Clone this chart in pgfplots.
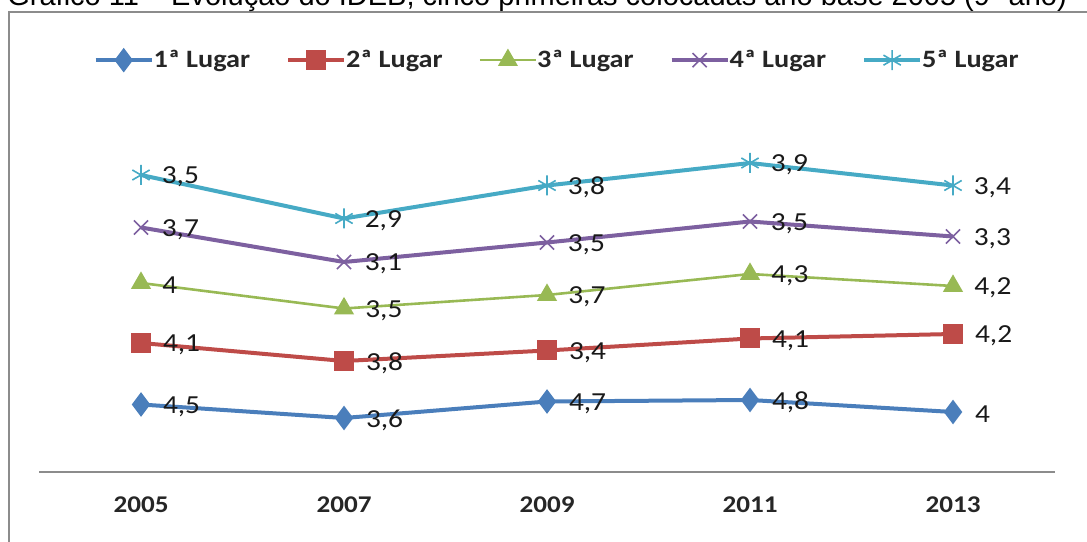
\documentclass[border=0pt]{standalone}
\usepackage{pgfplots}
\pgfplotsset{compat=1.18}
\usepackage{fontspec}
\setmainfont[FakeStretch=1.13]{Carlito}
\newfontfamily\titlefont{Liberation Sans}
\definecolor{s1}{HTML}{4A7EBB}
\definecolor{s2}{HTML}{BE4B48}
\definecolor{s3}{HTML}{98B954}
\definecolor{s4}{HTML}{7D60A0}
\definecolor{s5}{HTML}{46AAC5}
\definecolor{frame}{HTML}{8C8C8C}
\begin{document}
\begin{tikzpicture}
\useasboundingbox (0,0) rectangle (543.5pt,270.5pt);
\clip (0,0) rectangle (543.5pt,270.5pt);
\draw[frame, line width=0.8pt] (4.5pt,-10pt) rectangle (560pt,264.5pt);
\node[anchor=base west, inner sep=0pt, font=\titlefont\fontsize{14.5pt}{17pt}\selectfont]
  at (3.5pt,267.5pt) {Gráfico 11 – Evolução do IDEB, cinco primeiras colocadas ano base 2005 (9º ano)};
% lines are drawn stacked (Excel stacked line chart); labels give each school's score
\begin{axis}[
    at={(19.75pt,34.5pt)}, anchor=south west,
    scale only axis,
    width=507.5pt, height=180pt,
    xmin=-0.5, xmax=4.5, ymin=0, ymax=24,
    axis x line=bottom, axis y line=none,
    x axis line style={-, draw=frame, line width=0.8pt},
    xtick={0,1,2,3,4},
    xticklabels={2005,2007,2009,2011,2013},
    major tick length=0pt,
    xticklabel style={font=\bfseries\fontsize{12pt}{15pt}\selectfont, text=black!85, yshift=-9pt},
    clip=false,
    point meta=explicit symbolic,
    nodes near coords,
    every node near coord/.append style={anchor=west, xshift=9pt, yshift=-1pt, inner sep=1pt,
        font=\fontsize{13pt}{15pt}\selectfont, text=black!90},
    legend columns=5,
    legend style={at={(0.511,1.144)}, anchor=center, draw=none, fill=none,
        font=\bfseries\fontsize{12.5pt}{15pt}\selectfont, text=black!85,
        /tikz/every even column/.append style={column sep=16pt},
        /tikz/every odd column/.append style={column sep=-2pt}},
    legend image code/.code={
        \draw[mark repeat=2, mark phase=2] plot coordinates {(0pt,0pt) (14pt,0pt) (28pt,0pt)};},
]
\addplot[color=s1, line width=2pt, mark=diamond*, mark size=4.5pt, mark options={solid}] coordinates {
    (0,4.5) [4,5]
    (1,3.6) [3,6]
    (2,4.7) [4,7]
    (3,4.8) [4,8]
    (4,4.0) [4]
};
\addplot[color=s2, line width=2pt, mark=square*, mark size=4pt] coordinates {
    (0,8.6) [4,1]
    (1,7.4) [3,8]
    (2,8.1) [3,4]
    (3,8.9) [4,1]
    (4,9.2) [4,2]
};
\addplot[color=s3, line width=1.3pt, mark=triangle*, mark size=4.5pt] coordinates {
    (0,12.6) [4]
    (1,10.9) [3,5]
    (2,11.8) [3,7]
    (3,13.2) [4,3]
    (4,12.4) [4,2]
};
\addplot[color=s4, line width=2pt, mark=x, mark size=5pt, mark options={line width=0.8pt}] coordinates {
    (0,16.3) [3,7]
    (1,14.0) [3,1]
    (2,15.3) [3,5]
    (3,16.7) [3,5]
    (4,15.7) [3,3]
};
\addplot[color=s5, line width=2pt, mark=asterisk, mark size=5pt, mark options={line width=0.8pt}] coordinates {
    (0,19.8) [3,5]
    (1,16.9) [2,9]
    (2,19.1) [3,8]
    (3,20.6) [3,9]
    (4,19.1) [3,4]
};
\legend{1ª Lugar, 2ª Lugar, 3ª Lugar, 4ª Lugar, 5ª Lugar}
\end{axis}
\end{tikzpicture}
\end{document}
